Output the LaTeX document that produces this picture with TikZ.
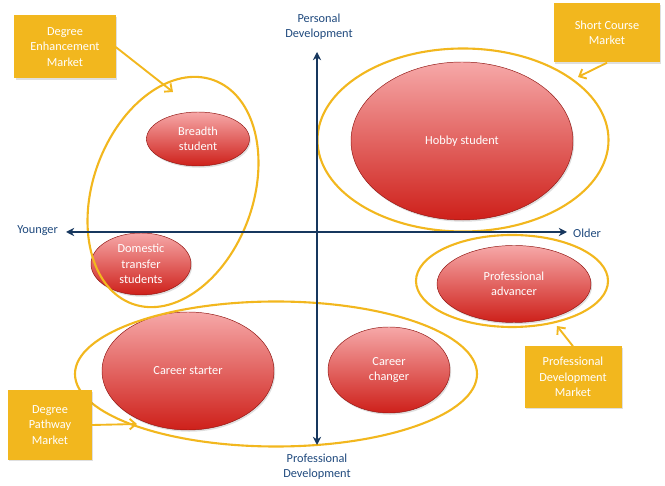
\documentclass[tikz,border=0pt]{standalone}
\usepackage{fontspec}
\setmainfont{Carlito}
\usepackage{tikz}
\usetikzlibrary{shapes.geometric}
\usetikzlibrary{arrows.meta}
\usetikzlibrary{shadows}

\definecolor{marketgold}{RGB}{242,183,30}
\definecolor{axisblue}{RGB}{23,55,94}
\definecolor{labelblue}{RGB}{31,73,125}
\definecolor{segtop}{RGB}{246,168,168}
\definecolor{segbottom}{RGB}{206,32,26}

\tikzset{
    segment/.style = {ellipse, draw = segbottom!70!black, line width = 0.4pt, top color = segtop, bottom color = segbottom, text = white, align = center, inner sep = 0pt, drop shadow = {opacity = 0.25, shadow xshift = 1pt, shadow yshift = -1.5pt}},
    marketring/.style = {ellipse, draw = marketgold, line width = 1.8pt, inner sep = 0pt},
    marketbox/.style = {rectangle, fill = marketgold, text = white, align = center, inner sep = 0pt, drop shadow = {opacity = 0.25, shadow xshift = 1pt, shadow yshift = -1pt}},
    marketarrow/.style = {draw = marketgold, line width = 1.6pt, -{Straight Barb[length = 5pt, width = 9pt]}},
    axisline/.style = {draw = axisblue, line width = 1.8pt, {Stealth[length = 7pt, width = 7pt]}-{Stealth[length = 7pt, width = 7pt]}},
    axislabel/.style = {text = labelblue, align = center}
}

\begin{document}
\begin{tikzpicture}[x = 0.03cm, y = -0.03cm, font = \fontsize{10.5}{13}\selectfont]
    \useasboundingbox (0, 0) rectangle (665, 486);

    % draw student segments
    \node[segment, minimum width = 3.09cm, minimum height = 1.62cm] (breadth) at (198, 139) {Breadth\\student};
    \node[segment, minimum width = 3.0cm, minimum height = 1.86cm] (domestic) at (141, 264) {Domestic\\transfer\\students};
    \node[segment, minimum width = 6.66cm, minimum height = 4.74cm] (hobby) at (462, 141) {Hobby student};
    \node[segment, minimum width = 4.62cm, minimum height = 2.31cm] (advancer) at (514, 284) {Professional\\advancer};
    \node[segment, minimum width = 5.16cm, minimum height = 3.54cm] (starter) at (188, 371) {Career starter};
    \node[segment, minimum width = 3.66cm, minimum height = 2.58cm] (changer) at (389, 370) {Career\\changer};

    % draw market rings
    \node[marketring, minimum width = 7.14cm, minimum height = 4.8cm, rotate = 70] (enhring) at (173, 192) {};
    \node[marketring, minimum width = 8.73cm, minimum height = 5.49cm] (shortring) at (463, 140) {};
    \node[marketring, minimum width = 5.76cm, minimum height = 2.76cm] (devring) at (512, 281) {};
    \node[marketring, minimum width = 12.06cm, minimum height = 4.35cm] (pathring) at (276, 374) {};

    % draw axes
    \coordinate (young) at (66, 232);
    \coordinate (old) at (567, 232);
    \coordinate (personal) at (317, 52);
    \coordinate (professional) at (317, 445);
    \draw[axisline] (young) -- (old);
    \draw[axisline] (professional) -- (personal);
    \node[axislabel, anchor = east] (younglabel) at (62, 231) {Younger};
    \node[axislabel, anchor = west] (oldlabel) at (569, 233) {Older};
    \node[axislabel] (personallabel) at (319, 27) {Personal\\Development};
    \node[axislabel] (professionallabel) at (317, 467) {Professional\\Development};

    % draw market boxes
    \node[marketbox, minimum width = 3.03cm, minimum height = 1.89cm] (enhbox) at (65, 47) {Degree\\Enhancement\\Market};
    \node[marketbox, minimum width = 3.18cm, minimum height = 1.77cm] (shortbox) at (607, 33) {Short Course\\Market};
    \node[marketbox, minimum width = 2.91cm, minimum height = 1.83cm] (devbox) at (573, 377) {Professional\\Development\\Market};
    \node[marketbox, minimum width = 2.52cm, minimum height = 2.07cm] (pathbox) at (50, 425) {Degree\\Pathway\\Market};

    % draw callout arrows
    \coordinate (enhtip) at (173, 92);
    \coordinate (shorttip) at (578, 77);
    \coordinate (devtip) at (557, 326);
    \coordinate (pathtip) at (137, 424);
    \draw[marketarrow] (enhbox.east) -- (enhtip);
    \draw[marketarrow] (shortbox.south) -- (shorttip);
    \draw[marketarrow] (devbox.north) -- (devtip);
    \draw[marketarrow] (pathbox.east) -- (pathtip);
\end{tikzpicture}
\end{document}
